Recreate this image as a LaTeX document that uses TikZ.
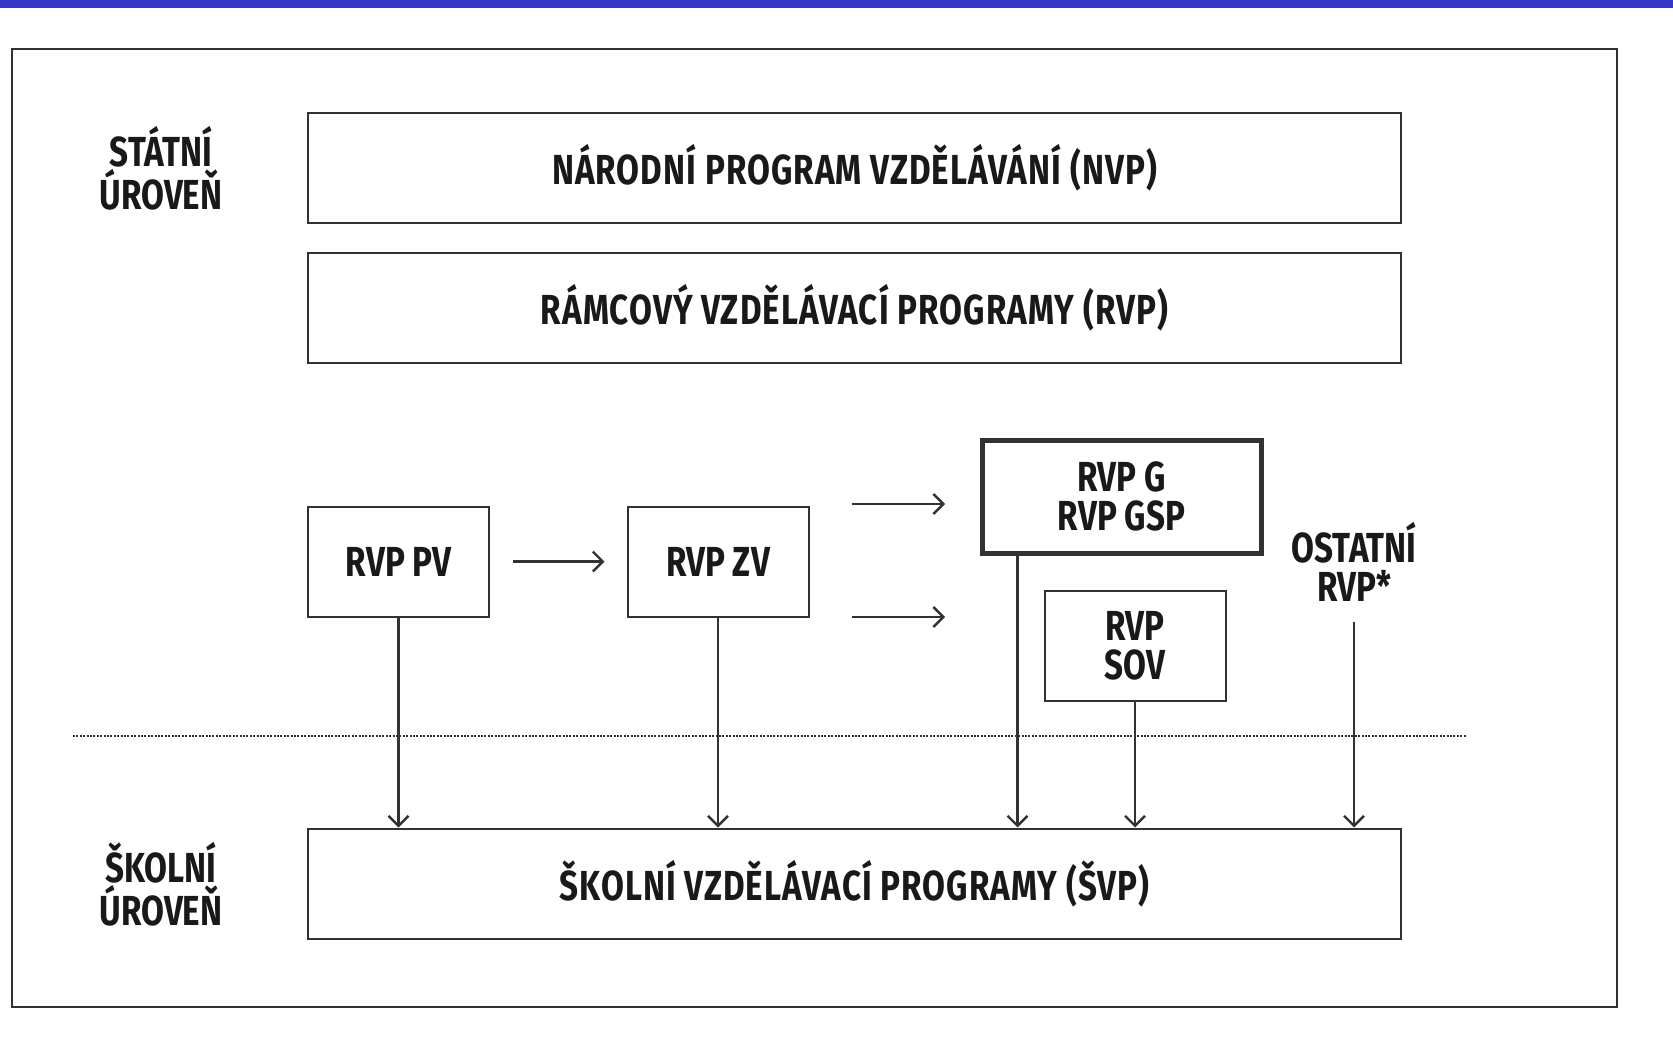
\documentclass[tikz,border=0pt]{standalone}
\usepackage{fontspec}
\setmainfont{Fira Sans}[FakeStretch=0.79]
\usetikzlibrary{arrows.meta}

\definecolor{barblue}{RGB}{52,52,198}
\definecolor{linegray}{RGB}{50,50,50}
\definecolor{txtblack}{RGB}{25,25,25}

\tikzset{
  lbl/.style={text=txtblack, align=center, inner sep=0pt, font=\bfseries\fontsize{21}{19.5}\selectfont},
  widebox/.style={lbl, draw=linegray, line width=1pt, minimum width=546.5pt, minimum height=55pt,
    font=\bfseries\fontsize{21}{19.5}\selectfont\addfontfeature{LetterSpace=2.5}},
  smallbox/.style={lbl, draw=linegray, line width=1pt, minimum width=90.5pt, minimum height=55pt},
  thickbox/.style={smallbox, line width=2.5pt, minimum width=139.5pt, minimum height=56.5pt},
  arr/.style={draw=linegray, line width=1.2pt, -{Straight Barb[length=5pt,width=10pt]}},
  dotline/.style={draw=linegray, line width=1.1pt, dash pattern=on 1pt off 0.7pt}
}

\begin{document}
\begin{tikzpicture}[x=0.5pt,y=0.5pt,yscale=-1,xscale=1]
\useasboundingbox (0,0) rectangle (1673,1050);

%Shape: Rectangle [top bar]
\fill [barblue] (0,0) rectangle (1673,8);

%Shape: Rectangle [frame]
\draw [draw=linegray, line width=0.9pt] (12,49) rectangle (1617,1007);

% Text Node
\node (statni) at (161,168) [lbl] {STÁTNÍ\\ÚROVEŇ};

% Text Node
\node (skolni) at (161,884) [lbl] {ŠKOLNÍ\\ÚROVEŇ};

%Shape: Rectangle [state level]
\node (nvp) at (854.5,168) [widebox] {NÁRODNÍ PROGRAM VZDĚLÁVÁNÍ (NVP)};
\node (rvp) at (854.5,308) [widebox] {RÁMCOVÝ VZDĚLÁVACÍ PROGRAMY (RVP)};

%Shape: Rectangle [programmes]
\node (pv) at (398.5,561.5) [smallbox] {RVP PV};
\node (zv) at (718,561.5) [smallbox] {RVP ZV};
\node (g) at (1121.5,496.5) [thickbox] {RVP G\\RVP GSP};
\node (sov) at (1135,645.5) [smallbox] {RVP\\SOV};

% Text Node
\node (ost) at (1354,562) [lbl] {OSTATNÍ\\RVP*};

%Shape: Rectangle [school level]
\node (svp) at (854.5,883.5) [widebox] {ŠKOLNÍ VZDĚLÁVACÍ PROGRAMY (ŠVP)};

%Straight Lines [level border]
\draw [dotline] (73,736) -- (1467,736);

%Straight Lines [horizontal arrows]
\coordinate (gin) at (945,504);
\coordinate (sovin) at (945,617);
\draw [arr, shorten <=11.5pt, shorten >=11pt] (pv) -- (zv);
\draw [arr, shorten <=21pt] (zv.east |- gin) -- (gin);
\draw [arr, shorten <=21pt] (zv.east |- sovin) -- (sovin);

%Straight Lines [down arrows]
\coordinate (gout) at ([xshift=19pt]g.south west);
\draw [arr] (pv) -- (pv |- svp.north);
\draw [arr] (zv) -- (zv |- svp.north);
\draw [arr] (gout) -- (gout |- svp.north);
\draw [arr] (sov) -- (sov |- svp.north);
\draw [arr, shorten <=10pt] (ost) -- (ost |- svp.north);

\end{tikzpicture}
\end{document}
